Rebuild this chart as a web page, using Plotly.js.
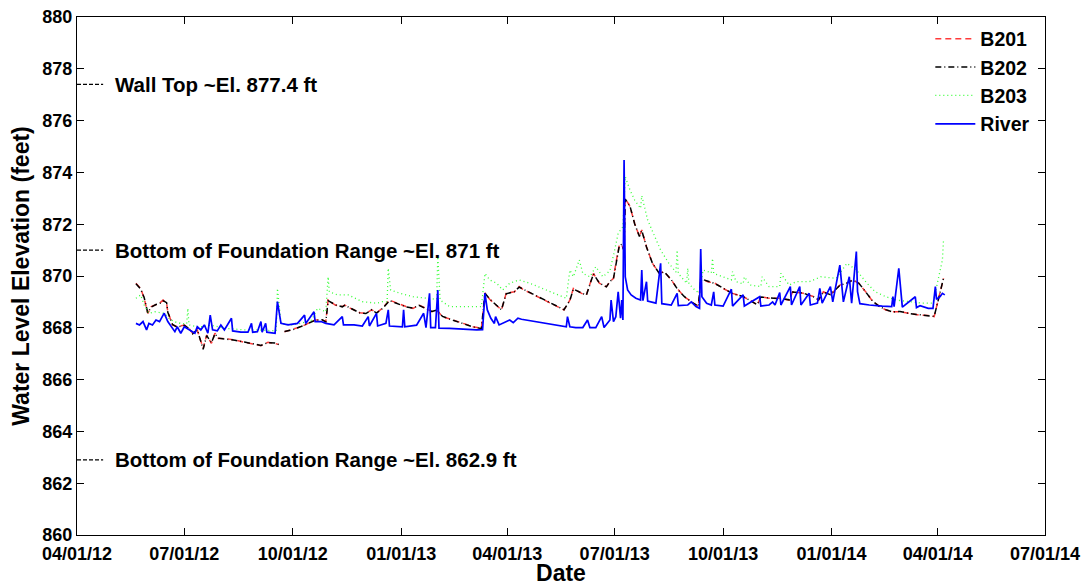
<!DOCTYPE html>
<html>
<head>
<meta charset="utf-8">
<script src="https://cdn.plot.ly/plotly-3.0.1.min.js"></script>
<style>html,body{margin:0;padding:0;background:#fff;}#chart{width:1090px;height:586px;}</style>
</head>
<body>
<div id="chart"></div>
<script>
// ---- Data ----
const tickDates = ["2012-04-01","2012-07-01","2012-10-01","2013-01-01","2013-04-01","2013-07-01","2013-10-01","2014-01-01","2014-04-01","2014-07-01"];
const tickLabels = ["04/01/12","07/01/12","10/01/12","01/01/13","04/01/13","07/01/13","10/01/13","01/01/14","04/01/14","07/01/14"];

const refLevels = [877.4, 871, 862.9];
const refLabels = ["Wall Top ~El. 877.4 ft", "Bottom of Foundation Range ~El. 871 ft", "Bottom of Foundation Range ~El. 862.9 ft"];

const wellDates = ["2012-05-21","2012-05-25","2012-05-28","2012-05-31","2012-06-03","2012-06-07","2012-06-10","2012-06-13","2012-06-16","2012-06-17","2012-06-21","2012-06-25","2012-07-01","2012-07-05","2012-07-08","2012-07-12","2012-07-17","2012-07-20","2012-07-24","2012-07-27","2012-07-30","2012-08-04","2012-08-13","2012-08-21","2012-08-30","2012-09-04","2012-09-10","2012-09-17","2012-09-19","2012-09-21","2012-09-24","2012-09-30","2012-10-08","2012-10-14","2012-10-20","2012-10-26","2012-10-29","2012-10-31","2012-11-06","2012-11-12","2012-11-14","2012-11-19","2012-11-27","2012-12-02","2012-12-07","2012-12-11","2012-12-16","2012-12-22","2012-12-28","2013-01-05","2013-01-11","2013-01-16","2013-01-22","2013-01-27","2013-01-31","2013-02-05","2013-02-14","2013-02-22","2013-03-03","2013-03-10","2013-03-13","2013-03-17","2013-03-23","2013-03-27","2013-03-31","2013-04-07","2013-04-11","2013-04-14","2013-05-19","2013-05-24","2013-05-27","2013-06-03","2013-06-07","2013-06-13","2013-06-18","2013-06-24","2013-06-27","2013-06-30","2013-07-02","2013-07-05","2013-07-07","2013-07-09","2013-07-10","2013-07-14","2013-07-18","2013-07-22","2013-07-24","2013-07-28","2013-08-02","2013-08-08","2013-08-12","2013-08-18","2013-08-23","2013-08-29","2013-09-04","2013-09-10","2013-09-12","2013-09-18","2013-09-24","2013-10-01","2013-10-09","2013-10-18","2013-10-26","2013-10-30","2013-11-02","2013-11-09","2013-11-18","2013-11-26","2013-11-29","2013-12-08","2013-12-17","2013-12-21","2013-12-25","2013-12-31","2014-01-08","2014-01-14","2014-01-19","2014-01-24","2014-01-31","2014-02-05","2014-02-11","2014-02-16","2014-02-22","2014-02-28","2014-03-08","2014-03-16","2014-03-25","2014-03-29","2014-04-01","2014-04-04","2014-04-06"];

const b201Vals = [869.72,869.52,869.14,868.56,868.82,868.88,868.95,869.07,868.95,868.62,868.11,868.04,868.11,867.98,867.79,867.92,867.21,867.72,867.40,867.79,867.59,867.59,867.53,867.44,867.36,867.31,867.44,867.40,867.36,null,867.85,867.92,868.04,868.17,868.30,868.30,868.24,869.07,868.88,868.82,868.88,868.75,868.58,868.56,868.69,868.58,868.75,869.07,868.95,868.82,868.75,868.88,868.75,868.62,868.69,868.43,868.30,868.17,868.04,867.98,869.35,869.10,868.85,868.69,869.33,869.39,869.59,869.49,868.69,869.07,869.52,869.33,869.27,870.10,869.72,869.59,869.78,869.91,870.49,871.20,871.20,871.00,873.00,872.68,872.03,871.52,871.78,871.13,870.49,870.10,870.17,869.85,869.52,869.20,869.01,868.82,869.91,869.78,869.72,869.52,869.33,869.20,869.01,868.88,869.20,869.14,869.14,869.07,869.39,869.33,869.20,869.07,869.39,869.27,869.65,869.72,869.85,869.72,869.33,869.01,868.82,868.69,868.62,868.62,868.56,868.49,868.47,868.43,869.00,869.59,869.91];

const b202Vals = [869.70,869.50,869.16,868.58,868.80,868.90,868.93,869.05,868.97,868.60,868.13,868.02,868.10,867.97,867.77,867.93,867.17,867.70,867.42,867.77,867.60,867.58,867.52,867.45,867.35,867.32,867.43,867.41,867.35,null,867.86,867.91,868.05,868.16,868.29,868.31,868.23,869.05,868.89,868.81,868.87,868.76,868.57,868.55,868.70,868.57,868.74,869.05,868.96,868.81,868.76,868.87,868.74,868.63,868.68,868.44,868.29,868.16,868.03,867.97,869.33,869.11,868.84,868.70,869.31,869.40,869.57,869.50,868.70,869.05,869.50,869.34,869.26,870.08,869.73,869.58,869.79,869.90,870.47,871.18,871.22,870.98,872.97,872.70,872.01,871.53,871.76,871.12,870.50,870.09,870.16,869.86,869.51,869.21,869.00,868.83,869.89,869.79,869.71,869.53,869.32,869.21,869.00,868.89,869.19,869.15,869.13,869.08,869.38,869.34,869.19,869.08,869.38,869.28,869.64,869.73,869.84,869.73,869.32,869.02,868.81,868.70,868.61,868.63,868.55,868.50,868.46,868.44,868.98,869.57,869.93];

const b203Dates = ["2012-05-21","2012-05-25","2012-05-28","2012-06-01","2012-06-06","2012-06-14","2012-06-18","2012-06-22","2012-06-28","2012-07-03","2012-07-04","2012-07-05","2012-07-12","2012-07-18","2012-07-23","2012-07-29","2012-08-04","2012-08-13","2012-08-21","2012-09-01","2012-09-13","2012-09-17","2012-09-18","2012-09-21","2012-09-30","2012-10-08","2012-10-17","2012-10-22","2012-10-29","2012-10-31","2012-11-01","2012-11-08","2012-11-17","2012-11-22","2012-11-29","2012-12-11","2012-12-16","2012-12-20","2012-12-21","2012-12-23","2012-12-31","2013-01-11","2013-01-22","2013-01-31","2013-02-01","2013-02-03","2013-02-11","2013-02-22","2013-03-10","2013-03-13","2013-03-17","2013-03-23","2013-03-28","2013-04-03","2013-04-11","2013-04-20","2013-05-07","2013-05-21","2013-05-24","2013-05-27","2013-06-01","2013-06-04","2013-06-10","2013-06-15","2013-06-21","2013-06-27","2013-07-01","2013-07-04","2013-07-08","2013-07-10","2013-07-14","2013-07-18","2013-07-23","2013-07-24","2013-07-29","2013-08-04","2013-08-09","2013-08-16","2013-08-22","2013-08-23","2013-08-24","2013-08-31","2013-09-01","2013-09-02","2013-09-07","2013-09-11","2013-09-14","2013-09-21","2013-09-22","2013-09-23","2013-10-01","2013-10-08","2013-10-09","2013-10-12","2013-10-18","2013-10-19","2013-10-24","2013-11-02","2013-11-03","2013-11-09","2013-11-18","2013-11-19","2013-11-26","2013-12-02","2013-12-13","2013-12-23","2014-01-05","2014-01-14","2014-01-22","2014-01-31","2014-02-07","2014-02-16","2014-02-25","2014-03-08","2014-03-19","2014-03-28","2014-04-02","2014-04-05","2014-04-06"];
const b203Vals = [869.14,869.27,868.88,868.56,868.62,868.56,868.37,868.24,868.17,868.15,868.75,868.11,868.04,868.04,868.11,868.04,867.98,867.95,867.92,867.92,867.88,867.88,869.52,868.17,868.11,868.17,868.30,868.75,868.62,869.97,869.39,869.27,869.27,869.16,869.01,868.95,869.01,869.00,870.30,869.46,869.33,869.20,869.14,869.10,870.75,869.07,868.82,868.82,868.82,870.10,869.85,869.72,869.46,869.72,869.85,869.72,869.39,869.14,870.23,869.97,870.62,870.10,869.97,870.36,869.97,870.20,871.00,871.65,871.90,873.83,873.32,872.93,872.61,873.10,872.16,871.52,871.00,870.49,870.15,871.00,870.10,869.72,870.30,869.70,869.46,869.33,870.23,870.12,870.68,870.10,869.97,869.85,870.17,869.78,869.70,869.97,869.65,869.59,869.97,869.59,869.59,870.10,869.65,869.78,869.78,869.97,869.91,870.49,870.23,869.72,869.39,869.20,869.07,869.01,868.95,868.95,869.97,870.62,871.45];

const riverDates = ["2012-05-21","2012-05-24","2012-05-27","2012-05-30","2012-06-01","2012-06-04","2012-06-07","2012-06-10","2012-06-13","2012-06-14","2012-06-17","2012-06-20","2012-06-23","2012-06-25","2012-06-28","2012-07-01","2012-07-05","2012-07-10","2012-07-12","2012-07-15","2012-07-18","2012-07-21","2012-07-23","2012-07-25","2012-07-29","2012-08-01","2012-08-04","2012-08-10","2012-08-11","2012-08-18","2012-08-24","2012-08-27","2012-08-28","2012-09-01","2012-09-04","2012-09-05","2012-09-08","2012-09-09","2012-09-16","2012-09-18","2012-09-21","2012-09-27","2012-10-05","2012-10-11","2012-10-12","2012-10-19","2012-10-20","2012-10-25","2012-10-29","2012-11-05","2012-11-12","2012-11-13","2012-11-22","2012-11-29","2012-12-04","2012-12-05","2012-12-11","2012-12-12","2012-12-19","2012-12-21","2012-12-22","2013-01-02","2013-01-03","2013-01-04","2013-01-14","2013-01-18","2013-01-20","2013-01-22","2013-01-25","2013-01-26","2013-01-30","2013-02-01","2013-02-02","2013-02-11","2013-02-22","2013-03-06","2013-03-11","2013-03-13","2013-03-15","2013-03-18","2013-03-21","2013-03-22","2013-03-25","2013-03-31","2013-04-03","2013-04-06","2013-04-10","2013-04-13","2013-05-21","2013-05-22","2013-05-24","2013-05-29","2013-06-04","2013-06-08","2013-06-10","2013-06-15","2013-06-20","2013-06-22","2013-06-27","2013-06-28","2013-06-30","2013-07-02","2013-07-04","2013-07-06","2013-07-07","2013-07-08","2013-07-09","2013-07-10","2013-07-12","2013-07-15","2013-07-19","2013-07-23","2013-07-24","2013-07-25","2013-07-28","2013-07-29","2013-08-05","2013-08-09","2013-08-10","2013-08-18","2013-08-23","2013-08-24","2013-09-01","2013-09-04","2013-09-08","2013-09-11","2013-09-12","2013-09-13","2013-09-17","2013-09-21","2013-09-23","2013-09-24","2013-10-01","2013-10-08","2013-10-09","2013-10-18","2013-10-19","2013-11-01","2013-11-02","2013-11-09","2013-11-12","2013-11-14","2013-11-18","2013-11-19","2013-11-27","2013-11-28","2013-12-05","2013-12-06","2013-12-13","2013-12-14","2013-12-20","2013-12-22","2013-12-24","2013-12-31","2014-01-02","2014-01-08","2014-01-11","2014-01-16","2014-01-18","2014-01-22","2014-01-23","2014-01-25","2014-02-02","2014-02-13","2014-02-21","2014-02-22","2014-02-23","2014-02-27","2014-03-01","2014-03-02","2014-03-13","2014-03-14","2014-03-17","2014-03-24","2014-03-28","2014-03-30","2014-03-31","2014-04-03","2014-04-05","2014-04-07"];
const riverVals = [868.17,868.11,868.24,867.92,868.17,868.11,868.30,868.24,868.49,868.56,868.24,868.04,867.85,868.04,867.79,868.04,867.92,867.79,868.04,867.92,868.11,867.79,868.49,867.92,867.88,868.11,867.92,868.37,867.88,867.83,867.83,868.17,867.83,867.85,868.24,867.83,868.17,867.83,867.79,869.01,868.17,868.11,868.17,868.49,868.17,868.62,868.24,868.24,868.17,868.11,868.43,868.11,868.11,868.07,868.43,868.07,868.56,868.07,868.17,868.69,868.07,868.04,868.69,868.04,868.10,868.43,868.56,868.01,869.33,868.01,868.01,869.46,867.99,867.98,867.94,867.92,867.93,869.33,868.69,868.37,868.17,868.43,868.11,868.24,868.30,868.20,868.37,868.33,868.04,868.43,868.04,868.01,868.01,868.30,868.01,868.01,868.43,868.01,868.30,869.07,868.24,868.43,869.39,868.37,869.07,868.30,874.48,869.97,869.46,869.27,869.14,869.07,870.23,869.05,869.78,869.03,868.95,870.49,868.93,868.88,869.33,868.86,868.88,869.00,868.82,868.75,871.04,869.20,868.95,868.88,869.39,868.88,868.84,869.49,868.84,869.27,868.84,869.20,868.84,868.88,869.00,868.88,869.36,868.88,869.59,868.88,869.59,868.88,869.33,868.88,868.95,869.52,868.95,869.59,869.00,870.42,869.00,869.97,868.95,870.94,869.40,868.93,868.88,868.84,868.82,869.20,868.82,870.30,869.20,868.80,869.20,868.78,868.85,868.75,868.75,869.59,869.10,869.20,869.33,869.27];

// ---- Chart ----
const FONT = "Arial, 'Liberation Sans', Helvetica, sans-serif";

const traces = [
  {x: wellDates, y: b201Vals, name: "B201", type: "scatter", mode: "lines",
   line: {color: "#ff3a3a", width: 1.5, dash: "6px,4px"}},
  {x: wellDates, y: b202Vals, name: "B202", type: "scatter", mode: "lines",
   line: {color: "#000000", width: 1.5, dash: "6px,3px,1px,3px"}},
  {x: b203Dates, y: b203Vals, name: "B203", type: "scatter", mode: "lines",
   line: {color: "#33ff33", width: 1.3, dash: "1px,3px"}},
  {x: riverDates, y: riverVals, name: "River", type: "scatter", mode: "lines",
   line: {color: "#0000ff", width: 1.7}}
];

const shapes = refLevels.map(v => ({
  type: "line", xref: "paper", yref: "y", x0: 0, x1: 0.027, y0: v, y1: v,
  line: {color: "#000", width: 1.3, dash: "4px,2px"}
}));
const annotations = refLevels.map((v, i) => ({
  xref: "paper", yref: "y", x: 0.037, y: v, xanchor: "left", yanchor: "middle",
  text: refLabels[i], showarrow: false,
  font: {family: FONT, size: 20.5, color: "#000", weight: "bold"}
}));

const axisCommon = {
  showline: true, linecolor: "#000", linewidth: 1, mirror: "allticks",
  ticks: "inside", ticklen: 7, tickcolor: "#000", tickwidth: 1,
  showgrid: false, zeroline: false,
  tickfont: {family: FONT, size: 18, color: "#000", weight: "bold"}
};

const layout = {
  width: 1090, height: 586,
  margin: {l: 77, r: 45, t: 17, b: 51},
  paper_bgcolor: "#fff", plot_bgcolor: "#fff",
  font: {family: FONT, color: "#000"},
  showlegend: true,
  legend: {x: 0.99, y: 0.995, xanchor: "right", yanchor: "top",
           bgcolor: "rgba(0,0,0,0)", borderwidth: 0,
           font: {family: FONT, size: 19.5, color: "#000", weight: "bold"},
           tracegroupgap: 0, itemwidth: 40},
  xaxis: Object.assign({}, axisCommon, {
    type: "date", range: ["2012-04-01", "2014-07-01"],
    tickmode: "array", tickvals: tickDates, ticktext: tickLabels,
    ticklabelstandoff: 2,
    title: {text: "Date", font: {family: FONT, size: 23, weight: "bold"}, standoff: 2}
  }),
  yaxis: Object.assign({}, axisCommon, {
    range: [860, 880], dtick: 2, tick0: 860,
    title: {text: "Water Level Elevation (feet)", font: {family: FONT, size: 23, weight: "bold"}, standoff: 6}
  }),
  shapes: shapes,
  annotations: annotations
};

Plotly.newPlot("chart", traces, layout, {displayModeBar: false, staticPlot: true});
</script>
</body>
</html>
